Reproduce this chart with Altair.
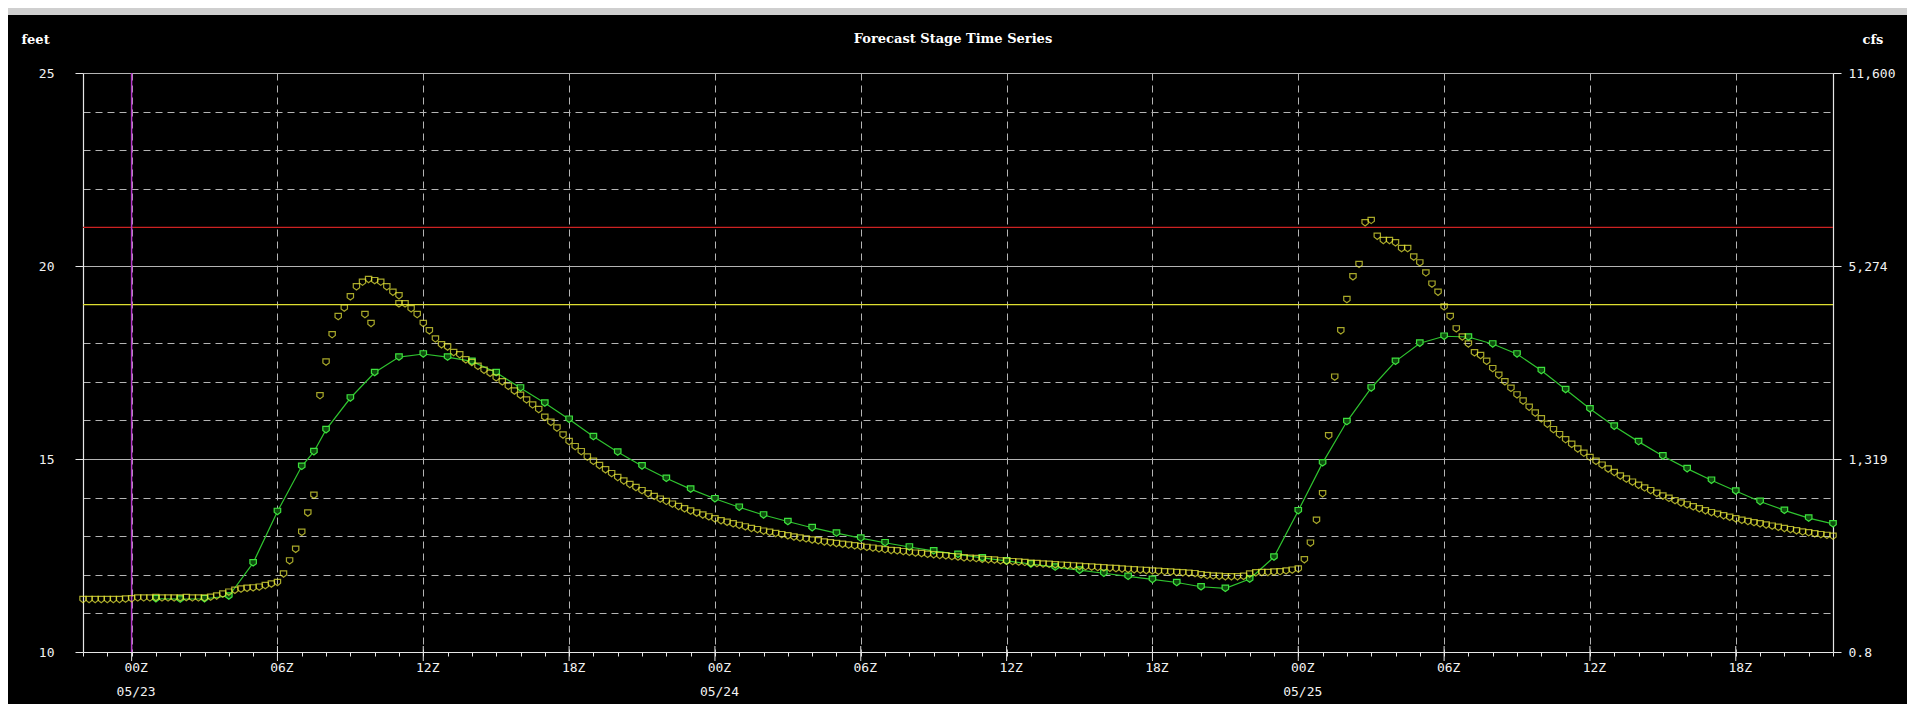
import altair as alt
import pandas as pd

# ---------------- data ----------------
START = "2011-05-22 22:00"   # left edge of the time axis / first 15-min reading
END = "2011-05-25 22:00"     # right edge of the time axis
NOW = "2011-05-23 00:00"     # vertical marker (current time)

CHART_TITLE = "Forecast Stage Time Series"

# yellow series: stage (feet), one reading every 15 minutes from START
stage_15min = [
    11.36, 11.36, 11.36, 11.36,
    11.36, 11.36, 11.36, 11.37,
    11.38, 11.40, 11.40, 11.40,
    11.41, 11.40, 11.40, 11.40,
    11.40, 11.41, 11.40, 11.40,
    11.40, 11.42, 11.45, 11.50,
    11.55, 11.60, 11.63, 11.65,
    11.66, 11.68, 11.72, 11.76,
    11.80, 12.02, 12.36, 12.66,
    13.10, 13.60, 14.06, 16.64,
    17.51, 18.22, 18.69, 18.91,
    19.20, 19.46, 19.58, 19.65,
    19.62, 19.58, 19.46, 19.32,
    19.23, 19.02, 18.89, 18.74,
    18.51, 18.32, 18.11, 17.96,
    17.90, 17.76, 17.70, 17.57,
    17.50, 17.40, 17.30, 17.22,
    17.10, 17.00, 16.88, 16.76,
    16.65, 16.53, 16.40, 16.28,
    16.08, 15.95, 15.80, 15.62,
    15.45, 15.32, 15.19, 15.05,
    14.94, 14.83, 14.72, 14.62,
    14.52, 14.43, 14.34, 14.26,
    14.18, 14.10, 14.03, 13.96,
    13.90, 13.83, 13.77, 13.71,
    13.65, 13.60, 13.55, 13.50,
    13.45, 13.40, 13.36, 13.32,
    13.28, 13.24, 13.20, 13.17,
    13.13, 13.10, 13.07, 13.04,
    13.01, 12.98, 12.95, 12.93,
    12.90, 12.88, 12.85, 12.83,
    12.81, 12.79, 12.77, 12.75,
    12.73, 12.71, 12.69, 12.67,
    12.65, 12.63, 12.62, 12.60,
    12.58, 12.56, 12.55, 12.53,
    12.52, 12.50, 12.49, 12.47,
    12.46, 12.44, 12.43, 12.42,
    12.40, 12.39, 12.38, 12.36,
    12.35, 12.34, 12.33, 12.32,
    12.30, 12.29, 12.28, 12.27,
    12.26, 12.25, 12.24, 12.23,
    12.22, 12.21, 12.20, 12.19,
    12.18, 12.17, 12.16, 12.15,
    12.14, 12.13, 12.12, 12.11,
    12.10, 12.09, 12.08, 12.07,
    12.06, 12.05, 12.04, 12.03,
    12.00, 11.98, 11.97, 11.96,
    11.95, 11.95, 11.95, 11.96,
    12.02, 12.05, 12.06, 12.06,
    12.07, 12.08, 12.10, 12.12,
    12.15, 12.39, 12.82, 13.41,
    14.10, 15.60, 17.12, 18.32,
    19.13, 19.72, 20.04, 21.12,
    21.18, 20.77, 20.66, 20.66,
    20.60, 20.45, 20.45, 20.23,
    20.08, 19.82, 19.53, 19.32,
    18.94, 18.69, 18.37, 18.16,
    17.98, 17.75, 17.68, 17.53,
    17.34, 17.17, 17.00, 16.83,
    16.66, 16.50, 16.34, 16.19,
    16.04, 15.90, 15.76, 15.63,
    15.50, 15.38, 15.26, 15.15,
    15.04, 14.94, 14.84, 14.74,
    14.65, 14.56, 14.48, 14.40,
    14.32, 14.25, 14.18, 14.11,
    14.04, 13.98, 13.92, 13.86,
    13.81, 13.76, 13.71, 13.66,
    13.61, 13.57, 13.53, 13.49,
    13.45, 13.41, 13.38, 13.35,
    13.32, 13.29, 13.26, 13.23,
    13.20, 13.17, 13.14, 13.11,
    13.09, 13.06, 13.04, 13.02,
    13.00,
]

# yellow readings lying off the 15-minute sequence (hours after NOW, feet)
extra_hours = [9.6, 9.85, 11.0]
extra_stage = [18.74, 18.51, 19.02]

# green series (hours after NOW, feet)
green_hours = [1, 2, 3, 4, 5, 6, 7, 7.5, 8, 9, 10, 11, 12, 13, 14, 15, 16, 17, 18, 19,
               20, 21, 22, 23, 24, 25, 26, 27, 28, 29, 30, 31, 32, 33, 34, 35, 36, 37,
               38, 39, 40, 41, 42, 43, 44, 45, 46, 47, 48, 49, 50, 51, 52, 53, 54, 55,
               56, 57, 58, 59, 60, 61, 62, 63, 64, 65, 66, 67, 68, 69, 70]
green_stage = [11.38, 11.37, 11.38, 11.45, 12.31, 13.64, 14.81, 15.19, 15.76, 16.58,
               17.24, 17.64, 17.72, 17.64, 17.53, 17.24, 16.84, 16.45, 16.03, 15.58,
               15.18, 14.82, 14.50, 14.22, 13.97, 13.75, 13.55, 13.38, 13.22, 13.08,
               12.95, 12.83, 12.72, 12.62, 12.53, 12.44, 12.36, 12.28, 12.20, 12.12,
               12.04, 11.96, 11.88, 11.80, 11.69, 11.65, 11.89, 12.46, 13.66, 14.90,
               15.97, 16.84, 17.53, 18.00, 18.18, 18.16, 17.98, 17.72, 17.29, 16.80,
               16.30, 15.85, 15.45, 15.08, 14.75, 14.45, 14.17, 13.90, 13.67, 13.47,
               13.32]

flood_stage = 21.0
action_stage = 19.0

stage_ticks = [10, 15, 20, 25]
cfs_labels = ["0.8", "1,319", "5,274", "11,600"]

# ---------------- helpers ----------------
def iso(ts):
    return ts.strftime("%Y-%m-%dT%H:%M:%SZ")

def ms(ts):
    return int(pd.Timestamp(ts).value // 10**6)

t_now = pd.Timestamp(NOW)
obs_times = pd.date_range(START, periods=len(stage_15min), freq="15min")
obs_df = pd.DataFrame({"time": [iso(t) for t in obs_times], "stage": stage_15min})
extra_df = pd.DataFrame({
    "time": [iso(t_now + pd.Timedelta(hours=h)) for h in extra_hours],
    "stage": extra_stage,
})
obs_all = pd.concat([obs_df, extra_df], ignore_index=True)
green_df = pd.DataFrame({
    "time": [iso(t_now + pd.Timedelta(hours=h)) for h in green_hours],
    "stage": green_stage,
})
thr_df = pd.DataFrame({"stage": [flood_stage, action_stage],
                       "color": ["#cc2222", "#dede30"]})
now_df = pd.DataFrame({"time": [iso(t_now)]})

hour_range = pd.date_range(START, END, freq="h")
hour_ticks = [ms(t) for t in hour_range]
major_df = pd.DataFrame({"time": [iso(t) for t in hour_range if t.hour % 6 == 0]})

# ---------------- styling ----------------
W, H = 1750, 579
MONO = "DejaVu Sans Mono"
SERIF = "DejaVu Serif"
LABEL_C = "#f2f2f2"
GRID_C = "#b4b4b4"
AXIS_C = "#e6e6e6"
shield = "M-1,-1H1V0.25L0,1L-1,0.25Z"

x_scale = alt.Scale(type="utc", domain=[ms(START), ms(END)])
y_scale = alt.Scale(domain=[10, 25], nice=False, zero=False)

is6 = "utchours(datum.value) % 6 == 0"
x_axis = alt.Axis(
    values=hour_ticks,
    labelExpr=(
        f"{is6} ? (utchours(datum.value) == 0 ? "
        "[utcFormat(datum.value, '%HZ'), utcFormat(datum.value, '%m/%d')] : "
        "utcFormat(datum.value, '%HZ')) : ''"
    ),
    labelOverlap=False, labelFlush=False, labelFont=MONO, labelFontSize=13,
    labelColor=LABEL_C, labelPadding=5, labelOffset=4, labelLineHeight=24,
    tickSize=4, tickColor=AXIS_C, domainColor=AXIS_C, domainWidth=1.2,
    grid=True, gridColor=GRID_C, gridDash=[7, 5], gridWidth=1,
    gridOpacity={"condition": {"test": is6, "value": 1}, "value": 0},
    title=None,
)

is5 = "datum.value % 5 == 0"
on_threshold = f"datum.value == {flood_stage} || datum.value == {action_stage}"
y_left = alt.Axis(
    values=list(range(10, 26)), orient="left",
    labelExpr=f"{is5} ? datum.label : ''",
    labelFont=MONO, labelFontSize=13, labelColor=LABEL_C, labelPadding=21,
    tickSize=8, tickColor=AXIS_C,
    tickOpacity={"condition": {"test": is5, "value": 1}, "value": 0},
    domainColor=AXIS_C, domainWidth=1.2,
    grid=True, gridColor=GRID_C, gridWidth=1,
    gridDash={"condition": {"test": is5, "value": []}, "value": [7, 5]},
    gridOpacity={"condition": {"test": on_threshold, "value": 0}, "value": 1},
    title="feet", titleAngle=0, titleX=-62, titleY=-34, titleAlign="left",
    titleBaseline="middle", titleFont=SERIF, titleFontSize=13,
    titleFontWeight="bold", titleColor="#ffffff",
)

cfs_expr = " : ".join(
    f"datum.value == {v} ? '{lab}'" for v, lab in zip(stage_ticks, cfs_labels)
) + " : ''"
y_right = alt.Axis(
    values=stage_ticks, orient="right", labelExpr=cfs_expr,
    labelFont=MONO, labelFontSize=13, labelColor=LABEL_C, labelPadding=7,
    tickSize=8, tickColor=AXIS_C, domainColor=AXIS_C, domainWidth=1.2,
    grid=False,
    title="cfs", titleAngle=0, titleX=29, titleY=-34, titleAlign="left",
    titleBaseline="middle", titleFont=SERIF, titleFontSize=13,
    titleFontWeight="bold", titleColor="#ffffff",
)

X = alt.X("time:T", scale=x_scale, axis=x_axis)

# ---------------- layers ----------------
toolbar = alt.Chart(pd.DataFrame({"a": [0]})).mark_rect(color="#cfcfcf").encode(
    x=alt.value(-75), x2=alt.value(W + 74), y=alt.value(-65), y2=alt.value(-58)
)

title_txt = alt.Chart(pd.DataFrame({"label": [CHART_TITLE]})).mark_text(
    font=SERIF, fontSize=13, fontWeight="bold", color="#ffffff",
    align="center", baseline="middle",
).encode(text="label:N", x=alt.value(W / 2 - 5), y=alt.value(-34))

# longer ticks at the 6-hourly labels, crossing the time axis
major_ticks = alt.Chart(major_df).mark_rule(color=AXIS_C, strokeWidth=1).encode(
    x=X, y=alt.value(H - 6), y2=alt.value(H + 9)
)

thresholds = alt.Chart(thr_df).mark_rule(strokeWidth=1.3).encode(
    y=alt.Y("stage:Q", scale=y_scale, axis=y_right),
    color=alt.Color("color:N", scale=None),
)

now_rule = alt.Chart(now_df).mark_rule(color="#b43cc8", strokeWidth=1.5).encode(x=X)

green_line = alt.Chart(green_df).mark_line(color="#2fc42f", strokeWidth=1.2).encode(
    x=X, y=alt.Y("stage:Q", scale=y_scale, axis=y_left),
)

green_pts = alt.Chart(green_df).mark_point(
    shape=shield, size=42, filled=False, stroke="#3ee03e", strokeWidth=1.2,
    fill="#0d4d0d", fillOpacity=1,
).encode(x=X, y=alt.Y("stage:Q", scale=y_scale, axis=None))

yellow_pts = alt.Chart(obs_all).mark_point(
    shape=shield, size=40, filled=False, stroke="#f0f03c", strokeWidth=1.2,
).encode(x=X, y=alt.Y("stage:Q", scale=y_scale, axis=None))

chart = alt.layer(
    toolbar, title_txt, green_line, major_ticks, thresholds, now_rule,
    green_pts, yellow_pts
).resolve_scale(y="independent").properties(
    width=W, height=H,
    padding={"left": 75, "top": 65, "right": 74, "bottom": 52},
    autosize=alt.AutoSizeParams(type="none"),
    background="#000000",
).configure_view(strokeWidth=0)

chart.save("out.html", embed_options={"renderer": "svg", "actions": False})
